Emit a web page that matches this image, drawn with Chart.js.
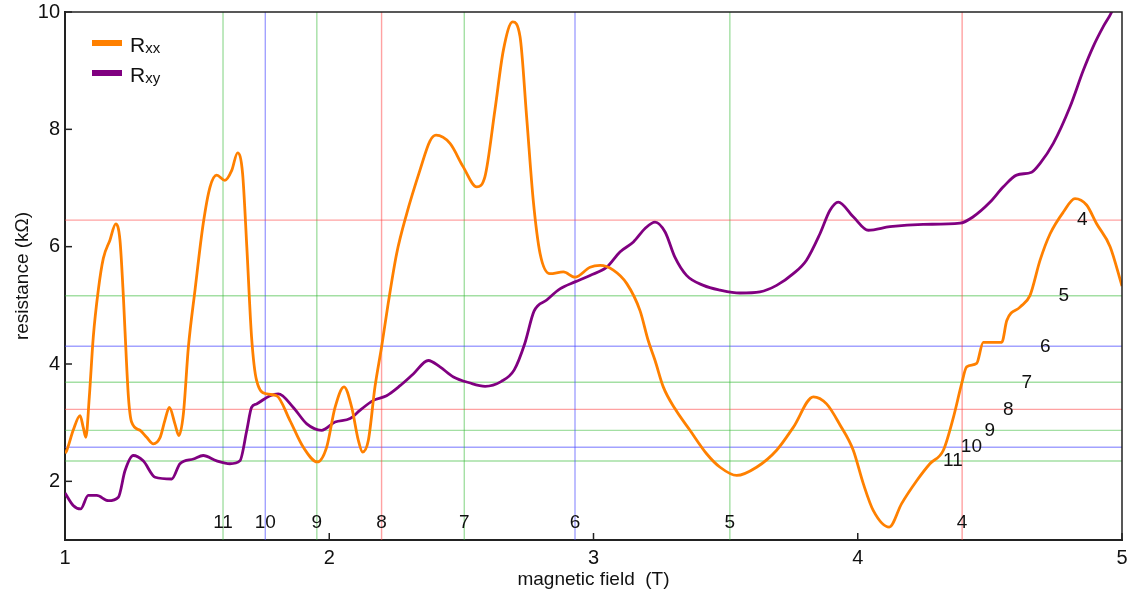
<!DOCTYPE html>
<html>
<head>
<meta charset="utf-8">
<script src="https://cdn.jsdelivr.net/npm/chart.js@4.4.0/dist/chart.umd.min.js"></script>
<style>
  html, body { margin: 0; padding: 0; background: #fff; }
</style>
</head>
<body>
<canvas id="hallChart" width="1128" height="598"></canvas>
<script>
// R_xx trace (field in T, resistance in kOhm)
const rxxField = [1.000, 1.006, 1.031, 1.057, 1.069, 1.079, 1.092, 1.107, 1.126, 1.145, 1.170, 1.192, 1.208, 1.221, 1.227,
  1.240, 1.252, 1.284, 1.309, 1.334, 1.360, 1.378, 1.395, 1.416, 1.431, 1.448, 1.467, 1.492, 1.523, 1.549, 1.574,
  1.605, 1.631, 1.653, 1.672, 1.688, 1.706, 1.725, 1.763, 1.801, 1.851, 1.902, 1.955, 1.990, 2.022, 2.056, 2.085,
  2.110, 2.126, 2.148, 2.173, 2.198, 2.223, 2.255, 2.293, 2.343, 2.381, 2.404, 2.457, 2.507, 2.558, 2.589, 2.627,
  2.659, 2.694, 2.722, 2.747, 2.772, 2.798, 2.835, 2.886, 2.930, 2.987, 3.025, 3.075, 3.126, 3.176, 3.207, 3.233,
  3.264, 3.308, 3.365, 3.428, 3.479, 3.542, 3.617, 3.693, 3.756, 3.832, 3.882, 3.933, 3.983, 4.021, 4.059, 4.119,
  4.166, 4.223, 4.273, 4.324, 4.362, 4.393, 4.412, 4.450, 4.475, 4.545, 4.564, 4.614, 4.652, 4.690, 4.728, 4.778,
  4.822, 4.866, 4.904, 4.955, 5.000];
const rxxValues = [2.48, 2.52, 2.87, 3.12, 2.92, 2.75, 3.44, 4.46, 5.26, 5.80, 6.11, 6.39, 6.11, 5.14, 4.57,
  3.44, 3.01, 2.87, 2.75, 2.64, 2.75, 3.04, 3.26, 2.98, 2.78, 3.15, 4.29, 5.26, 6.39, 7.02, 7.22,
  7.13, 7.30, 7.60, 7.25, 6.00, 4.46, 3.72, 3.49, 3.46, 3.04, 2.58, 2.33, 2.58, 3.26, 3.61, 3.26,
  2.70, 2.50, 2.70, 3.61, 4.29, 5.03, 5.88, 6.56, 7.30, 7.80, 7.90, 7.76, 7.36, 7.02, 7.19, 8.33,
  9.35, 9.83, 9.58, 8.21, 6.79, 5.88, 5.54, 5.57, 5.48, 5.65, 5.68, 5.60, 5.37, 4.91, 4.40, 4.06,
  3.61, 3.24, 2.87, 2.47, 2.24, 2.10, 2.24, 2.53, 2.92, 3.44, 3.32, 2.96, 2.53, 1.96, 1.50, 1.22,
  1.62, 2.01, 2.30, 2.53, 3.09, 3.66, 3.95, 4.01, 4.37, 4.37, 4.74, 4.97, 5.17, 5.77, 6.22, 6.59,
  6.82, 6.71, 6.39, 6.00, 5.33];

// R_xy trace
const rxyField = [1.000, 1.031, 1.059, 1.088, 1.120, 1.164, 1.202, 1.227, 1.258, 1.296, 1.341, 1.404, 1.435, 1.486,
  1.523, 1.574, 1.624, 1.662, 1.688, 1.706, 1.725, 1.776, 1.807, 1.864, 1.915, 1.971, 2.022, 2.079, 2.116, 2.167,
  2.217, 2.268, 2.318, 2.375, 2.419, 2.470, 2.530, 2.590, 2.650, 2.700, 2.740, 2.775, 2.823, 2.873, 2.930, 2.987,
  3.050, 3.100, 3.151, 3.195, 3.233, 3.271, 3.308, 3.352, 3.416, 3.479, 3.554, 3.630, 3.693, 3.756, 3.806, 3.857,
  3.895, 3.926, 3.983, 4.040, 4.122, 4.248, 4.387, 4.437, 4.501, 4.551, 4.601, 4.658, 4.690, 4.740, 4.803, 4.854,
  4.891, 4.929, 4.961, 5.000];
const rxyValues = [1.80, 1.59, 1.53, 1.76, 1.76, 1.67, 1.73, 2.18, 2.44, 2.35, 2.07, 2.04, 2.30, 2.38,
  2.44, 2.35, 2.30, 2.35, 2.87, 3.26, 3.32, 3.46, 3.49, 3.26, 2.98, 2.87, 3.01, 3.07, 3.21, 3.38,
  3.46, 3.63, 3.83, 4.06, 3.95, 3.78, 3.68, 3.62, 3.70, 3.90, 4.35, 4.90, 5.09, 5.28, 5.40, 5.51,
  5.65, 5.91, 6.08, 6.31, 6.42, 6.25, 5.82, 5.51, 5.34, 5.26, 5.21, 5.23, 5.34, 5.54, 5.77, 6.22,
  6.62, 6.76, 6.51, 6.28, 6.34, 6.38, 6.40, 6.51, 6.76, 7.02, 7.22, 7.27, 7.42, 7.76, 8.38, 9.01,
  9.41, 9.75, 10.0, 10.45];

// filling factors: field of each nu and quantized Hall resistance h/(nu e^2)
const nuLabels = ['4', '5', '6', '7', '8', '9', '10', '11'];
const nuFields = [4.395, 3.516, 2.930, 2.511, 2.198, 1.953, 1.758, 1.598];
const nuResist = [6.453, 5.163, 4.302, 3.688, 3.227, 2.868, 2.581, 2.347];

const xTicks = [1, 2, 3, 4, 5];
const yTicks = [2, 4, 6, 8, 10];

// styles
const red = 'rgba(255,70,70,0.5)';
const green = 'rgba(50,185,50,0.45)';
const blue = 'rgba(70,70,255,0.5)';
const nuColors = [red, green, blue, green, red, green, blue, green];
const labelFieldRight = [4.85, 4.78, 4.71, 4.64, 4.57, 4.50, 4.43, 4.36];
const labelResistBottom = 1.29;
const fontFam = "'Liberation Sans', Arial, Helvetica, sans-serif";

Chart.defaults.font.family = fontFam;
Chart.defaults.color = '#111';

let datasets = [];
datasets.push({
  label: 'Rxx',
  data: rxxField.map((b, i) => ({x: b, y: rxxValues[i]})),
  borderColor: '#ff8000',
  borderWidth: 2.8,
  pointRadius: 0,
  cubicInterpolationMode: 'monotone',
  order: 0
});
datasets.push({
  label: 'Rxy',
  data: rxyField.map((b, i) => ({x: b, y: rxyValues[i]})),
  borderColor: '#800080',
  borderWidth: 2.8,
  pointRadius: 0,
  cubicInterpolationMode: 'monotone',
  order: 1
});
nuFields.forEach((b, i) => {
  datasets.push({
    label: 'v' + nuLabels[i],
    data: [{x: b, y: 1}, {x: b, y: 10}],
    borderColor: nuColors[i], borderWidth: 1.4, pointRadius: 0, order: 2
  });
  datasets.push({
    label: 'h' + nuLabels[i],
    data: [{x: 1, y: nuResist[i]}, {x: 5, y: nuResist[i]}],
    borderColor: nuColors[i], borderWidth: 1.4, pointRadius: 0, order: 2
  });
});

// extra drawing: inward ticks, frame, nu labels, legend with subscripts
const extras = {
  id: 'extras',
  afterDraw(chart) {
    const ctx = chart.ctx;
    const a = chart.chartArea;
    const xs = chart.scales.x, ys = chart.scales.y;
    ctx.save();
    ctx.strokeStyle = '#222';
    ctx.lineWidth = 1.5;
    ctx.beginPath();
    ctx.moveTo(a.left, a.top); ctx.lineTo(a.right, a.top); ctx.lineTo(a.right, a.bottom);
    ctx.stroke();
    ctx.lineWidth = 1.5;
    yTicks.forEach(v => {
      const py = ys.getPixelForValue(v);
      ctx.beginPath(); ctx.moveTo(a.left, py); ctx.lineTo(a.left + 7, py); ctx.stroke();
    });
    xTicks.forEach(v => {
      const px = xs.getPixelForValue(v);
      ctx.beginPath(); ctx.moveTo(px, a.bottom); ctx.lineTo(px, a.bottom - 7); ctx.stroke();
    });

    ctx.fillStyle = '#111';
    ctx.font = '19px ' + fontFam;
    ctx.textAlign = 'center';
    ctx.textBaseline = 'middle';
    nuLabels.forEach((t, i) => {
      ctx.fillText(t, xs.getPixelForValue(nuFields[i]), ys.getPixelForValue(labelResistBottom));
      ctx.fillText(t, xs.getPixelForValue(labelFieldRight[i]), ys.getPixelForValue(nuResist[i]));
    });

    // legend
    const items = [['#ff8000', 'xx'], ['#800080', 'xy']];
    items.forEach((it, i) => {
      const y = 43 + i * 30;
      ctx.fillStyle = it[0];
      ctx.fillRect(92, y - 3, 30, 6);
      ctx.fillStyle = '#111';
      ctx.textAlign = 'left';
      ctx.textBaseline = 'alphabetic';
      ctx.font = '21px ' + fontFam;
      ctx.fillText('R', 130, y + 9);
      const w = ctx.measureText('R').width;
      ctx.font = '15px ' + fontFam;
      ctx.fillText(it[1], 130 + w, y + 10);
    });
    ctx.restore();
  }
};

const ctxHall = document.getElementById('hallChart').getContext('2d');
const hallChart = new Chart(ctxHall, {
  type: 'line',
  data: { datasets: datasets },
  plugins: [extras],
  options: {
    responsive: false,
    animation: false,
    devicePixelRatio: 1,
    layout: { padding: { top: 12, right: 6, left: 0, bottom: 0 } },
    plugins: {
      legend: { display: false },
      tooltip: { enabled: false }
    },
    scales: {
      x: {
        type: 'linear',
        min: 1, max: 5,
        afterBuildTicks: s => { s.ticks = xTicks.map(v => ({value: v})); },
        afterFit: s => { s.height = 58; s.paddingLeft = 0; s.paddingRight = 0; },
        grid: { display: false, drawTicks: false },
        border: { display: true, color: '#222', width: 2 },
        ticks: { padding: 6, font: { size: 20 }, color: '#111' },
        title: { display: true, text: 'magnetic field  (T)', font: { size: 19 }, color: '#111', padding: { top: 0, bottom: 7 } }
      },
      y: {
        type: 'linear',
        min: 1, max: 10,
        afterBuildTicks: s => { s.ticks = yTicks.map(v => ({value: v})); },
        afterFit: s => { s.width = 65; s.paddingTop = 0; s.paddingBottom = 0; },
        grid: { display: false, drawTicks: false },
        border: { display: true, color: '#222', width: 2 },
        ticks: { padding: 5, font: { size: 20 }, color: '#111' },
        title: { display: true, text: 'resistance (kΩ)', font: { size: 19 }, color: '#111', padding: { top: 11, bottom: 0 } }
      }
    }
  }
});
</script>
</body>
</html>
